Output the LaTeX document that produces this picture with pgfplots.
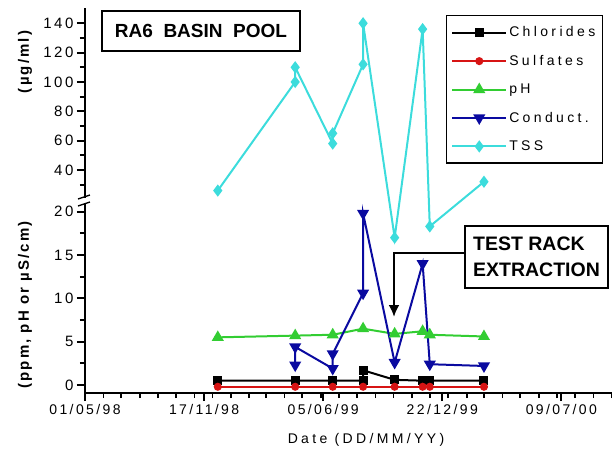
\documentclass[border=0pt]{standalone}
\usepackage{pgfplots}
\pgfplotsset{compat=1.18}
\usepackage{fontspec}
\setmainfont{Liberation Sans}
\newfontfamily\lsfont[LetterSpace=17]{Liberation Sans}
\newfontfamily\lglfont[LetterSpace=24]{Liberation Sans}
\newfontfamily\lsbfont[LetterSpace=14]{Liberation Sans Bold}
\newfontfamily\lsxfont[LetterSpace=24]{Liberation Sans}
\usetikzlibrary{arrows.meta}
\definecolor{cChl}{RGB}{0,0,0}
\definecolor{cSul}{RGB}{215,20,20}
\definecolor{cPH}{RGB}{50,205,50}
\definecolor{cCon}{RGB}{10,10,160}
\definecolor{cTSS}{RGB}{60,220,220}
\begin{document}
\begin{tikzpicture}
\path[use as bounding box] (-85pt,-66pt) rectangle (527pt,393pt);
\begin{axis}[
  at={(0pt,0pt)}, anchor=south west,
  scale only axis, width=527pt, height=385pt,
  xmin=0, xmax=885, ymin=-0.92, ymax=150.4,
  y coord trafo/.code={\pgfmathparse{ifthenelse(#1<21.3,#1,18.03+0.1693*#1)}},
  axis x line*=bottom, axis y line*=left,
  axis line style={line width=2.4pt},
  tick style={line width=1.8pt, black},
  major tick length=8pt, minor tick length=5pt,
  tick align=outside,
  xtick={0,200,400,600,800},
  xticklabels={01/05/98,17/11/98,05/06/99,22/12/99,09/07/00},
  minor xtick={31,61,92,123,153,184,214,245,276,304,335,365,396,426,457,488,518,549,579,610,641,670,701,731,762,792,823,854,884},
  ytick={0,5,10,15,20,40,60,80,100,120,140},
  yticklabels={0,5,10,15,20,40,60,80,100,120,140},
  minor ytick={2.5,7.5,12.5,17.5,30,50,70,90,110,130},
  xticklabel style={font=\fontsize{14}{16}\selectfont\lsfont},
  yticklabel style={font=\fontsize{15}{17}\selectfont\lsfont},
  /pgf/number format/assume math mode=true,
  clip=false,
  legend style={at={(0.983,0.982)}, anchor=north east, draw=black, line width=1.5pt,
    font=\fontsize{14}{16}\selectfont\lglfont, row sep=13pt, inner xsep=5pt, inner ysep=9pt,
    cells={anchor=west}},
  legend image code/.code={\draw[#1, mark repeat=2, mark phase=2] plot coordinates {(0pt,0pt) (27pt,0pt) (54pt,0pt)};},
]
\addplot[cChl, line width=2pt, mark=square*, mark size=3.5pt, mark options={solid}] coordinates {
 (223,0.5) (353,0.5) (416,0.5) (467,0.5) (467,1.7) (520,0.6) (567,0.5) (579,0.5) (670,0.5)};
\addlegendentry{Chlorides}
\addplot[cSul, line width=2pt, mark=*, mark size=3pt, mark options={solid}] coordinates {
 (223,-0.2) (353,-0.2) (416,-0.2) (467,-0.2) (520,-0.2) (567,-0.2) (579,-0.2) (670,-0.2)};
\addlegendentry{Sulfates}
\addplot[cPH, line width=2pt, mark=triangle*, mark size=5pt, mark options={solid}] coordinates {
 (223,5.5) (353,5.7) (416,5.8) (467,6.5) (520,5.9) (567,6.2) (579,5.8) (670,5.6)};
\addlegendentry{pH}
\addplot[cCon, line width=2pt, mark=triangle*, mark size=5pt, mark options={solid, rotate=180}] coordinates {
 (353,2.3) (353,4.4) (416,1.9) (416,3.6) (467,10.6) (467,19.8) (520,2.6) (567,14.0) (579,2.4) (670,2.2)};
\addlegendentry{Conduct.}
\addplot[cTSS, line width=2pt, mark=diamond*, mark size=4.5pt, mark options={solid}] coordinates {
 (223,26) (353,100) (353,110) (416,58) (416,65) (467,112) (467,140) (520,17) (567,136) (579,18.3) (670,32)};
\addlegendentry{TSS}
\end{axis}
% axis break on the left spine
\fill[white] (-3pt,190.5pt) rectangle (3pt,195.5pt);
\draw[line width=1.3pt] (-7pt,187pt) -- (5pt,191pt);
\draw[line width=1.3pt] (-7pt,194pt) -- (5pt,198pt);
% axis labels
\node[rotate=90, font=\fontsize{15}{17}\selectfont\lsbfont] at (-60pt,331pt) {(µg/ml)};
\node[rotate=90, font=\fontsize{15}{17}\selectfont\lsbfont] at (-60pt,88pt) {(ppm, pH or µS/cm)};
\node[font=\fontsize{14}{16}\selectfont\lsxfont] at (281pt,-47pt) {Date (DD/MM/YY)};
% annotations
\node[draw, line width=1.5pt, minimum width=198pt, minimum height=40pt, font=\fontsize{19}{21}\selectfont\bfseries] at (116pt,362pt) {RA6\ \ BASIN\ \ POOL};
\node[draw, line width=1.8pt, minimum width=143pt, minimum height=62pt, align=left, font=\fontsize{19.5}{26}\selectfont\bfseries] at (451.5pt,136pt) {TEST RACK\\EXTRACTION};
\draw[line width=2.5pt, -{Latex[length=12pt,width=11pt]}] (380pt,140pt) -- (309pt,140pt) -- (309pt,76pt);
\end{tikzpicture}
\end{document}
